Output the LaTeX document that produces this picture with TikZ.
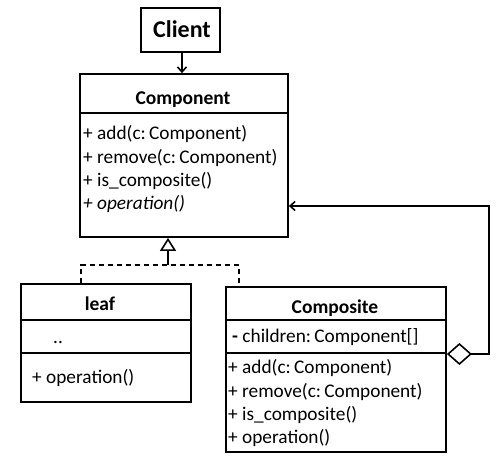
\documentclass[tikz,border=0pt]{standalone}
\usepackage{fontspec}
\setmainfont{Carlito}
\usetikzlibrary{arrows.meta}
\begin{document}
\begin{tikzpicture}[x=1pt,y=-1pt,
  box/.style={draw,line width=1.8pt,inner sep=0pt,rectangle},
  sep/.style={line width=1.3pt},
  txt/.style={anchor=base west,inner sep=0pt,font=\fontsize{19.3}{22}\selectfont},
  ttl/.style={anchor=base,inner sep=0pt,font=\fontsize{19.5}{22}\selectfont\bfseries},
  conn/.style={line width=1.6pt}]
\useasboundingbox (0,0) rectangle (502,455);
% boxes
\node[box,minimum width=79pt,minimum height=44pt] (client) at (180.5,30) {};
\node[box,minimum width=208pt,minimum height=163pt] (comp) at (184,155.5) {};
\node[box,minimum width=170pt,minimum height=118pt] (leaf) at (106,343) {};
\node[box,minimum width=220pt,minimum height=165pt] (compo) at (336,369.5) {};
% dividers
\draw[sep] (comp.west |- 0,113) -- (comp.east |- 0,113);
\draw[sep] (leaf.west |- 0,320) -- (leaf.east |- 0,320);
\draw[sep] (leaf.west |- 0,353) -- (leaf.east |- 0,353);
\draw[sep] (compo.west |- 0,320) -- (compo.east |- 0,320);
\draw[sep] (compo.west |- 0,353) -- (compo.east |- 0,353);
% texts
\node[ttl,font=\fontsize{24}{28}\selectfont\bfseries] (tclient) at (182,37) {Client};
\node[ttl] (tcomp) at (183,104) {Component};
\node[txt] (m1) at (83,139) {+ add(c:\,Component)};
\node[txt] (m2) at (83,163) {+ remove(c:\,Component)};
\node[txt] (m3) at (83,186) {+ is\_composite()};
\node[txt,font=\fontsize{19.3}{22}\selectfont\itshape] (m4) at (83,209) {+ operation()};
\node[ttl] (tleaf) at (100,310) {leaf};
\node[txt] (ldots) at (53,343) {..};
\node[txt] (lop) at (32,383) {+ operation()};
\node[ttl] (tcompo) at (335,313) {Composite};
\node[txt] (attr) at (232,342) {\textbf{-} children:\,Component[]};
\node[txt] (k1) at (228,373) {+ add(c:\,Component)};
\node[txt] (k2) at (228,397) {+ remove(c:\,Component)};
\node[txt] (k3) at (228,420) {+ is\_composite()};
\node[txt] (k4) at (228,443) {+ operation()};
% client -> component
\draw[conn,-{Straight Barb[length=5pt,width=9pt]}] (client.south -| 182,0) -- (comp.north -| 182,0);
% inheritance
\coordinate (j) at (168,265);
\draw[conn,-{Triangle[open,length=13pt,width=16pt]}] (j) -- (comp.south -| j);
\draw[conn,dashed,dash pattern=on 5pt off 4pt] (leaf.north -| 81,0) -- (81,265) -- (239,265) -- (compo.north -| 239,0);
% aggregation
\coordinate (r1) at (489,354);
\coordinate (r2) at (489,206);
\draw[conn,{Diamond[open,length=25pt,width=22pt]}-{Straight Barb[length=5pt,width=9pt]}] (compo.east |- 0,354) -- (r1) -- (r2) -- (comp.east |- r2);
\end{tikzpicture}
\end{document}
